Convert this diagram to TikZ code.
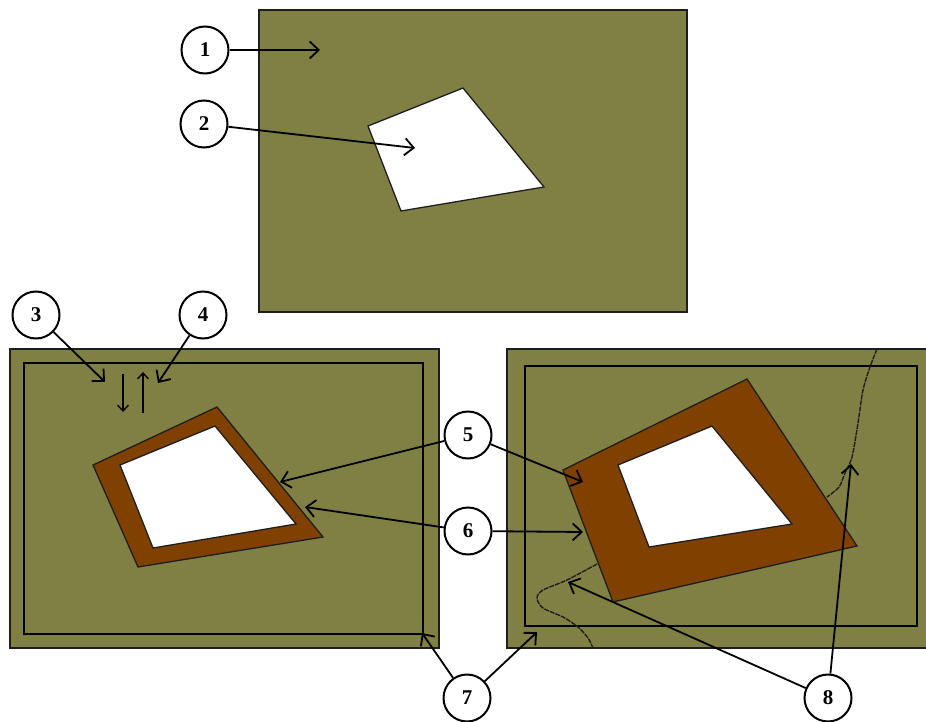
\documentclass[tikz,border=0pt]{standalone}
\usepackage{fontspec}
\setmainfont{Liberation Serif}
\usetikzlibrary{arrows.meta}
\definecolor{fieldOlive}{HTML}{808045}
\definecolor{bandBrown}{HTML}{804000}
\definecolor{edgeInk}{HTML}{1E1E1E}

\begin{document}
\begin{tikzpicture}[x=1pt, y=-1pt, >={Straight Barb[length=9pt,width=17pt]},
    callout/.style={circle, draw, line width=2pt, fill=white, minimum size=47pt,
      inner sep=0pt, font=\fontsize{21}{21}\selectfont\bfseries},
    pointer/.style={->, line width=1.8pt},
    panel/.style={fill=fieldOlive, draw=edgeInk, line width=1.5pt},
    innerframe/.style={draw=black, line width=2pt},
    parcel/.style={draw=edgeInk, line width=1.3pt},
    trace/.style={draw=edgeInk, line width=1.4pt, dash pattern=on 5pt off 1pt}]
  \useasboundingbox (0,0) rectangle (926,722);

  % three panels
  \draw[panel] (259,10) rectangle (687,312);
  \draw[panel] (10,349) rectangle (439,648);
  \draw[innerframe] (24,363) rectangle (423,634);
  \draw[panel] (507,349) rectangle (930,648);
  \draw[innerframe] (525,366) rectangle (917,626);

  % parcel alone
  \filldraw[parcel, fill=white] (368,126) -- (463,88) -- (544,187) -- (401,211) -- cycle;

  % parcel with a narrow band
  \filldraw[parcel, fill=bandBrown] (93,465) -- (217,407) -- (323,537) -- (138,567) -- cycle;
  \filldraw[parcel, fill=white] (120,465) -- (215,426) -- (296,524) -- (153,548) -- cycle;

  % parcel with a wide band
  \filldraw[parcel, fill=bandBrown] (563,470) -- (747,379) -- (857,546) -- (613,602) -- cycle;
  \filldraw[parcel, fill=white] (618,465) -- (712,426) -- (792,524) -- (649,547) -- cycle;

  % boundary traces
  \draw[trace] plot[smooth] coordinates {(877,349) (870,367) (863,390) (858,423)
    (852,457) (845,473) (839,487) (827,497)};
  \draw[trace] plot[smooth] coordinates {(597,564) (567,580) (543,590) (537,598)
    (543,608) (563,617) (578,627) (588,638) (593,648)};

  % down / up marks
  \draw[->, line width=1.3pt, >={Straight Barb[length=6pt,width=11pt]}] (123,374) -- (123,412);
  \draw[->, line width=1.3pt, >={Straight Barb[length=6pt,width=11pt]}] (143,413) -- (143,372);

  % callouts
  \foreach \n/\x/\y in {1/205/50, 2/204/124, 3/36/315, 4/203/315,
                        5/468/435, 6/468/531, 7/467/698, 8/828/698} {
    \node[callout] (c\n) at (\x,\y) {\n};
  }

  % pointer tips
  \coordinate (t1) at (320,50);
  \coordinate (t2) at (415,148);
  \coordinate (t3) at (105,382);
  \coordinate (t4) at (158,383);
  \coordinate (t5a) at (280,482);
  \coordinate (t5b) at (583,482);
  \coordinate (t6a) at (305,507);
  \coordinate (t6b) at (583,532);
  \coordinate (t7a) at (422,633);
  \coordinate (t7b) at (537,632);
  \coordinate (t8a) at (568,582);
  \coordinate (t8b) at (851,464);

  \foreach \c/\t in {1/t1, 2/t2, 3/t3, 4/t4, 5/t5a, 5/t5b, 6/t6a, 6/t6b,
                     7/t7a, 7/t7b, 8/t8a, 8/t8b}
    \draw[pointer] (c\c) -- (\t);
\end{tikzpicture}
\end{document}
